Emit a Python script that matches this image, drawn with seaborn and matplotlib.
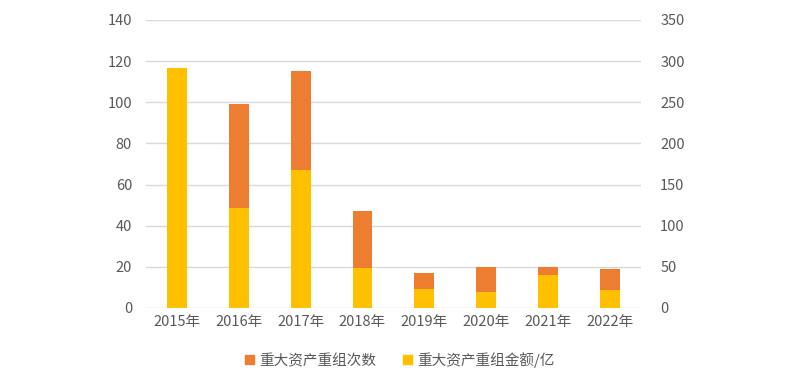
import pandas as pd
import numpy as np
import matplotlib
matplotlib.use('Agg')
import matplotlib.pyplot as plt
import seaborn as sns
from matplotlib.patches import Patch

# data
years = ['2015年', '2016年', '2017年', '2018年', '2019年', '2020年', '2021年', '2022年']
deal_counts = [110, 99, 115, 47, 17, 20, 20, 19]            # left axis, orange
deal_amounts = [292, 122, 168, 49, 23, 19, 40, 22]          # right axis (亿), yellow

count_label = '重大资产重组次数'
amount_label = '重大资产重组金额/亿'

ORANGE = '#ED7D31'
YELLOW = '#FFC000'
TEXT = '#595959'
GRID = '#D9D9D9'

sns.set_style('white')
plt.rcParams['font.family'] = ['Noto Sans CJK SC', 'DejaVu Sans']

df = pd.DataFrame({'year': years, 'count': deal_counts, 'amount': deal_amounts})

fig = plt.figure(figsize=(8, 3.75), dpi=100)
ax = fig.add_axes([0.1825, 0.1787, 0.6185, 0.768])
ax2 = ax.twinx()

# orange counts on the primary axis, drawn behind
sns.barplot(data=df, x='year', y='count', color=ORANGE, saturation=1,
            width=0.32, linewidth=0, ax=ax, zorder=2)
# yellow amounts on the secondary axis, drawn in front
sns.barplot(data=df, x='year', y='amount', color=YELLOW, saturation=1,
            width=0.32, linewidth=0, ax=ax2, zorder=2)

ax.set_ylim(0, 140)
ax.set_yticks(np.arange(0, 141, 20))
ax2.set_ylim(0, 350)
ax2.set_yticks(np.arange(0, 351, 50))
ax.set_xlim(-0.5, len(years) - 0.5)

ax.yaxis.grid(True, color=GRID, linewidth=1)
ax.set_axisbelow(True)

for a in (ax, ax2):
    for s in a.spines.values():
        s.set_visible(False)
    a.set_xlabel('')
    a.set_ylabel('')
    a.tick_params(length=0, colors=TEXT, labelsize=10.5)

ax.tick_params(axis='y', pad=10)
ax2.tick_params(axis='y', pad=14)
ax.tick_params(axis='x', pad=5)

handles = [Patch(color=ORANGE, label=count_label),
           Patch(color=YELLOW, label=amount_label)]
leg = fig.legend(handles=handles, loc='center', bbox_to_anchor=(0.5, 0.04),
                 ncol=2, frameon=False, fontsize=10.5, handlelength=0.6,
                 handleheight=0.6, handletextpad=0.4, columnspacing=1.8)
for t in leg.get_texts():
    t.set_color(TEXT)

plt.savefig('out.png', dpi=100)
plt.close()
